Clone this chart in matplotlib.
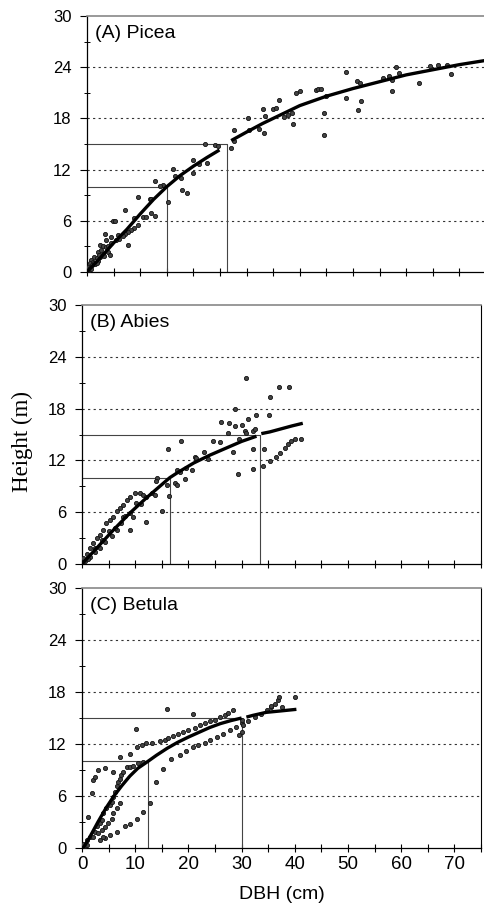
import matplotlib
matplotlib.use("Agg")
import matplotlib.pyplot as plt
from matplotlib.ticker import MultipleLocator

plt.rcParams['font.family'] = ['Liberation Sans', 'DejaVu Sans']

# ---- (A) Picea ----
picea_dbh = [22.2, 24.0, 24.6, 27.1, 27.6, 19.9, 21.1, 22.6, 19.9, 16.1, 16.5, 17.7,
             17.8, 18.8, 14.3, 13.8, 15.3, 12.7, 9.6, 11.8, 12.1, 7.1, 4.9, 5.2,
             8.9, 10.5, 11.1, 12.1, 12.7, 9.6, 8.9, 8.3, 7.7, 7.1, 6.8, 6.1, 5.5,
             7.7, 3.3, 3.6, 4.6, 5.8, 2.4, 3.0, 3.9, 4.3, 2.1, 1.4, 0.8, 0.5, 0.2,
             1.1, 1.8, 0.3, 0.6, 1.0, 1.3, 0.8, 1.5, 2.0, 2.5, 2.2, 1.8, 3.0, 2.7,
             3.5, 4.0, 4.5, 3.2,
             27.7, 30.2, 30.5, 32.4, 33.3, 33.0, 33.5, 34.9, 35.5, 36.0, 37.1, 37.7,
             38.6, 38.8, 39.3, 40.0, 43.0, 43.5, 44.0, 44.5, 44.6, 44.9, 48.7, 48.7,
             50.8, 51.3, 51.5, 51.0, 55.7, 56.8, 57.4, 57.3, 58.0, 58.7, 62.5, 64.5,
             65.9, 67.7, 68.4]
picea_h = [15.0, 14.9, 14.8, 14.5, 15.4, 13.1, 12.7, 12.8, 11.6, 12.1, 11.2, 11.0,
           9.6, 9.3, 10.2, 10.1, 8.2, 10.7, 8.8, 8.5, 8.6, 7.3, 6.0, 6.0,
           6.3, 6.5, 6.5, 6.9, 6.6, 5.5, 5.2, 4.9, 4.7, 4.5, 4.2, 3.9, 3.75,
           3.2, 4.45, 3.75, 4.1, 4.3, 3.2, 3.0, 2.4, 2.0, 2.4, 1.8, 1.4, 1.0, 0.6,
           1.2, 1.6, 0.2, 0.5, 0.8, 1.1, 0.3, 0.9, 1.3, 1.7, 2.0, 1.0, 2.1, 2.6,
           2.9, 3.1, 3.4, 1.9,
           16.6, 18.0, 16.6, 16.8, 16.3, 19.1, 18.3, 19.1, 19.2, 20.1, 18.2, 18.4,
           18.6, 17.4, 21.0, 21.2, 21.3, 21.4, 21.5, 18.6, 16.1, 20.6, 23.4, 20.4,
           22.4, 22.2, 20.0, 19.0, 22.7, 23.0, 22.5, 21.2, 24.0, 23.3, 22.2, 24.15,
           24.3, 24.3, 23.2]
picea_fit1_dbh = [0, 3, 5, 7.5, 10, 12.5, 15, 17.5, 20, 22.5, 24.9]
picea_fit1_h = [0, 2.0, 3.4, 5.0, 6.8, 8.5, 10.0, 11.3, 12.4, 13.4, 14.3]
picea_fit2_dbh = [27.1, 30, 33, 36, 40, 45, 50, 55, 60, 65, 70, 75]
picea_fit2_h = [15.4, 16.4, 17.4, 18.3, 19.5, 20.6, 21.5, 22.3, 23.1, 23.7, 24.3, 24.8]
picea_ref_dbh = [15.0, 26.3]
picea_ref_h = [10, 15]

# ---- (B) Abies ----
abies_dbh = [30.8, 37.0, 35.3, 28.8, 32.8, 35.1, 31.2, 26.1, 27.6, 28.8, 30.1,
             27.5, 30.6, 30.9, 32.1, 32.6, 29.6, 18.7, 24.6, 25.9, 16.1, 22.9, 28.4,
             32.1, 34.3, 21.2, 21.5, 23.6, 34.1, 35.4, 36.5, 32.1, 19.6, 20.6, 18.4,
             17.9, 29.3, 19.3, 14.1, 14.0, 16.0, 17.4, 17.9, 16.4, 15.0, 12.1, 9.1,
             9.0, 9.9, 10.9, 11.5, 12.1, 13.1, 13.7, 8.4, 7.7, 7.1, 6.5, 5.9, 5.3,
             4.6, 4.0, 3.4, 2.8, 2.1, 1.5, 0.9, 0.25, 9.6, 9.0, 7.7, 7.4, 6.5, 5.6,
             4.3, 3.4, 2.4, 1.5, 0.5, 1.1, 2.5, 3.8, 5.0, 6.2, 8.0, 10.2, 11.0,
             39.0, 37.2, 38.1, 38.7, 39.3, 40.0, 41.2]
abies_h = [21.5, 20.5, 19.3, 17.9, 17.3, 17.3, 16.8, 16.5, 16.3, 16.0, 16.1,
           15.2, 15.4, 15.2, 15.4, 15.6, 14.5, 14.3, 14.25, 14.1, 13.3, 13.0, 13.0,
           13.3, 13.3, 12.4, 12.25, 12.2, 11.4, 11.9, 12.4, 11.0, 11.1, 10.9, 10.7,
           10.9, 10.4, 9.9, 10.0, 9.65, 9.15, 9.35, 9.15, 7.9, 6.1, 4.9, 3.9,
           7.8, 8.2, 8.2, 8.0, 7.8, 8.2, 8.0, 7.4, 6.8, 6.45, 6.1, 5.5, 5.1,
           4.7, 3.9, 3.4, 3.0, 2.4, 1.8, 1.2, 0.65, 5.5, 5.9, 5.5, 4.7, 3.9, 3.2,
           2.6, 1.8, 1.4, 0.85, 0.3, 0.6, 1.9, 2.8, 3.8, 4.2, 5.6, 7.1, 7.0,
           20.5, 12.8, 13.4, 13.9, 14.2, 14.5, 14.5]
abies_fit1_dbh = [0, 3, 6, 9, 12, 15, 16.5, 18, 21, 24, 27, 30, 32.8]
abies_fit1_h = [0, 2.0, 4.0, 5.9, 7.6, 9.2, 10.0, 10.6, 11.7, 12.6, 13.4, 14.2, 14.8]
abies_fit2_dbh = [33.7, 35.3, 37.1, 39.5, 41.5]
abies_fit2_h = [15.1, 15.3, 15.6, 16.0, 16.3]
abies_ref_dbh = [16.5, 33.4]
abies_ref_h = [10, 15]

# ---- (C) Betula ----
betula_dbh = [16.0, 20.9, 10.1, 10.3, 11.2, 12.1, 13.1, 14.6, 15.6, 16.2, 17.1,
              18.1, 19.0, 19.9, 21.2, 22.1, 23.1, 24.0, 25.0, 25.9, 26.8, 27.4, 28.4,
              1.2, 1.8, 2.1, 2.4, 3.1, 4.3, 7.1, 9.0, 5.9, 8.4, 9.0, 9.6, 10.6, 11.5,
              4.3, 5.25, 6.5, 8.1, 9.0, 10.3, 11.5, 12.8, 14.0, 15.3, 16.8, 18.4,
              19.6, 20.9, 21.8, 23.1, 24.0, 25.3, 26.5, 27.8, 29.0, 30.0,
              0.25, 0.9, 1.5, 2.4, 2.75, 3.4, 3.7, 4.0, 4.6, 5.25, 5.6, 5.9, 6.2,
              6.5, 6.8, 7.1, 7.4, 7.75, 5.9, 6.5, 7.1, 2.1, 3.1, 3.7, 4.3, 4.9, 5.6,
              3.4, 4.0, 0.6, 1.0,
              30.0, 30.3, 30.0, 29.6, 31.2, 32.5, 33.7, 34.7, 35.6, 36.2, 36.8,
              37.1, 40.0, 37.5, 35.6]
betula_h = [16.0, 15.5, 13.7, 11.7, 11.9, 12.1, 12.1, 12.3, 12.5, 12.65, 12.9,
            13.2, 13.4, 13.6, 13.8, 14.2, 14.4, 14.6, 14.8, 15.1, 15.3, 15.6, 15.9,
            3.6, 6.3, 7.8, 8.2, 9.0, 9.2, 10.5, 10.9, 8.8, 9.4, 9.3, 9.45, 9.8, 9.95,
            1.1, 1.5, 1.9, 2.5, 2.8, 3.3, 4.1, 5.15, 7.6, 9.1, 10.3, 10.7,
            11.2, 11.6, 11.9, 12.15, 12.5, 12.8, 13.2, 13.6, 14.0, 14.4,
            0.5, 0.9, 1.3, 1.9, 2.5, 2.85, 3.2, 4.0, 4.6, 5.0, 5.35, 5.9, 6.5,
            7.1, 7.65, 8.0, 8.4, 8.8, 4.0, 4.6, 5.15, 1.3, 1.7, 2.1, 2.45, 2.85, 3.4,
            0.9, 1.3, 0.2, 0.4,
            14.8, 14.2, 13.4, 13.0, 14.6, 15.15, 15.5, 15.9, 16.3, 16.6, 17.1,
            17.4, 17.4, 16.3, 16.4]
betula_fit1_dbh = [0.25, 1.5, 3.0, 4.5, 6.0, 7.5, 9.0, 10.5, 12.4, 14, 16, 18, 20,
                   22, 24, 26, 28, 30]
betula_fit1_h = [0.0, 1.3, 3.0, 4.6, 6.0, 7.2, 8.3, 9.2, 10.0, 10.7, 11.5, 12.2, 12.8,
                 13.35, 13.9, 14.35, 14.7, 15.0]
betula_fit2_dbh = [30.9, 32.1, 34.6, 37.1, 40.3]
betula_fit2_h = [15.1, 15.3, 15.65, 15.8, 16.0]
betula_ref_dbh = [12.4, 30.1]
betula_ref_h = [10, 15]

panels = [
    ("(A) Picea", picea_dbh, picea_h, [(picea_fit1_dbh, picea_fit1_h), (picea_fit2_dbh, picea_fit2_h)],
     picea_ref_dbh, picea_ref_h),
    ("(B) Abies", abies_dbh, abies_h, [(abies_fit1_dbh, abies_fit1_h), (abies_fit2_dbh, abies_fit2_h)],
     abies_ref_dbh, abies_ref_h),
    ("(C) Betula", betula_dbh, betula_h, [(betula_fit1_dbh, betula_fit1_h), (betula_fit2_dbh, betula_fit2_h)],
     betula_ref_dbh, betula_ref_h),
]

W, H = 484, 910
fig = plt.figure(figsize=(W / 100, H / 100), dpi=100)

# axes boxes in pixels: (left, top, bottom)
boxes = [(87, 16, 272), (82, 305, 564), (82, 588, 848)]
width_px = 399

for i, (title, xs, ys, fits, rx, ry) in enumerate(panels):
    left, top, bottom = boxes[i]
    ax = fig.add_axes([left / W, 1 - bottom / H, width_px / W, (bottom - top) / H])
    ax.set_xlim(0, 75)
    ax.set_ylim(0, 30)

    for g in [6, 12, 18, 24]:
        ax.axhline(g, color="#333333", lw=0.8, ls=(0, (2, 3)), zorder=1)

    for x0, y0 in zip(rx, ry):
        ax.plot([0, x0, x0], [y0, y0, 0], color="#444444", lw=0.8, zorder=2)

    ax.plot(xs, ys, 'o', ms=3.0, mfc="#444444", mec="#111111", mew=0.6, zorder=3)

    for fx, fy in fits:
        ax.plot(fx, fy, color="black", lw=2.4, solid_capstyle="butt",
                solid_joinstyle="round", zorder=4)

    ax.text(1.5, 28.0, title, fontsize=14, va="center", ha="left")

    ax.spines["top"].set_color("#888888")
    ax.spines["top"].set_linewidth(1.2)
    ax.spines["left"].set_linewidth(0.9)
    ax.spines["bottom"].set_linewidth(0.9)
    if i == 0:
        ax.spines["right"].set_visible(False)
    else:
        ax.spines["right"].set_linewidth(0.8)

    ax.yaxis.set_major_locator(MultipleLocator(6))
    ax.yaxis.set_minor_locator(MultipleLocator(3))
    ax.xaxis.set_major_locator(MultipleLocator(10))
    ax.xaxis.set_minor_locator(MultipleLocator(5))
    ax.tick_params(axis="y", which="major", direction="out", length=5, width=0.8,
                   labelsize=12, pad=6)
    ax.tick_params(axis="y", which="minor", direction="inout", length=5, width=0.7)
    ax.tick_params(axis="x", which="both", direction="inout", length=6, width=0.8,
                   labelsize=13.5, pad=3)
    if i < 2:
        ax.tick_params(axis="x", labelbottom=False)
    else:
        ax.set_xlabel("DBH (cm)", fontsize=14, labelpad=9)

fig.text(22 / W, 1 - 441 / H, "Height (m)", rotation=90, ha="center", va="center",
         fontsize=16.5, family=["Liberation Serif", "DejaVu Serif"])

fig.savefig("out.png", dpi=100)
